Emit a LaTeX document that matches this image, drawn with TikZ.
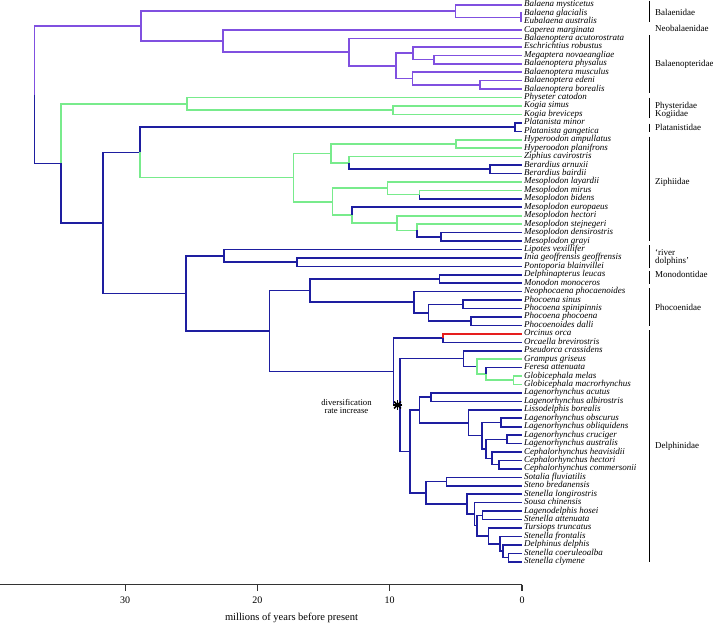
\documentclass[tikz,border=0pt]{standalone}
\usepackage{fontspec}
\setmainfont{Liberation Serif}

\definecolor{mystpurple}{RGB}{128,80,224}
\definecolor{odgreen}{RGB}{120,235,140}
\definecolor{odblue}{RGB}{30,30,160}
\definecolor{orcared}{RGB}{230,30,30}

\begin{document}
\begin{tikzpicture}[x=1pt, y=-1pt,
    branch/.style={line width=1.6pt},
    pu/.style={branch, draw=mystpurple},
    gr/.style={branch, draw=odgreen},
    bl/.style={branch, draw=odblue},
    rd/.style={branch, draw=orcared},
    tip/.style={anchor=west, inner sep=2pt, text height=6pt, text depth=2pt, font=\fontsize{9}{9}\selectfont\itshape},
    family/.style={anchor=west, inner sep=0pt, text height=6pt, text depth=2pt, font=\fontsize{9}{9}\selectfont},
    bracket/.style={line width=0.9pt},
    axis/.style={line width=1.1pt, draw=black!80},
    ticklab/.style={font=\fontsize{10}{10}\selectfont, inner sep=0pt}
]
\useasboundingbox (0,0) rectangle (713,624);

% tips
\node[tip] (bmys) at (522,4.70) {Balaena mysticetus};
\node[tip] (bgla) at (522,13.14) {Balaena glacialis};
\node[tip] (eaus) at (522,21.58) {Eubalaena australis};
\node[tip] (cmar) at (522,30.02) {Caperea marginata};
\node[tip] (bacu) at (522,38.46) {Balaenoptera acutorostrata};
\node[tip] (erob) at (522,46.90) {Eschrichtius robustus};
\node[tip] (mnov) at (522,55.34) {Megaptera novaeangliae};
\node[tip] (bphy) at (522,63.78) {Balaenoptera physalus};
\node[tip] (bmus) at (522,72.22) {Balaenoptera musculus};
\node[tip] (bede) at (522,80.66) {Balaenoptera edeni};
\node[tip] (bbor) at (522,89.10) {Balaenoptera borealis};
\node[tip] (pcat) at (522,97.54) {Physeter catodon};
\node[tip] (ksim) at (522,105.98) {Kogia simus};
\node[tip] (kbre) at (522,114.42) {Kogia breviceps};
\node[tip] (pmin) at (522,122.86) {Platanista minor};
\node[tip] (pgan) at (522,131.30) {Platanista gangetica};
\node[tip] (hamp) at (522,139.74) {Hyperoodon ampullatus};
\node[tip] (hpla) at (522,148.18) {Hyperoodon planifrons};
\node[tip] (zcav) at (522,156.62) {Ziphius cavirostris};
\node[tip] (barn) at (522,165.06) {Berardius arnuxii};
\node[tip] (bbai) at (522,173.50) {Berardius bairdii};
\node[tip] (mlay) at (522,181.94) {Mesoplodon layardii};
\node[tip] (mmir) at (522,190.38) {Mesoplodon mirus};
\node[tip] (mbid) at (522,198.82) {Mesoplodon bidens};
\node[tip] (meur) at (522,207.26) {Mesoplodon europaeus};
\node[tip] (mhec) at (522,215.70) {Mesoplodon hectori};
\node[tip] (mste) at (522,224.14) {Mesoplodon stejnegeri};
\node[tip] (mden) at (522,232.58) {Mesoplodon densirostris};
\node[tip] (mgra) at (522,241.02) {Mesoplodon grayi};
\node[tip] (lvex) at (522,249.46) {Lipotes vexillifer};
\node[tip] (igeo) at (522,257.90) {Inia geoffrensis geoffrensis};
\node[tip] (pbla) at (522,266.34) {Pontoporia blainvillei};
\node[tip] (dleu) at (522,274.78) {Delphinapterus leucas};
\node[tip] (mmon) at (522,283.22) {Monodon monoceros};
\node[tip] (npho) at (522,291.66) {Neophocaena phocaenoides};
\node[tip] (psin) at (522,300.10) {Phocoena sinus};
\node[tip] (pspi) at (522,308.54) {Phocoena spinipinnis};
\node[tip] (ppho) at (522,316.98) {Phocoena phocoena};
\node[tip] (pdal) at (522,325.42) {Phocoenoides dalli};
\node[tip] (oorc) at (522,333.86) {Orcinus orca};
\node[tip] (obre) at (522,342.30) {Orcaella brevirostris};
\node[tip] (pcra) at (522,350.74) {Pseudorca crassidens};
\node[tip] (ggri) at (522,359.18) {Grampus griseus};
\node[tip] (fatt) at (522,367.62) {Feresa attenuata};
\node[tip] (gmel) at (522,376.06) {Globicephala melas};
\node[tip] (gmac) at (522,384.50) {Globicephala macrorhynchus};
\node[tip] (lacu) at (522,392.94) {Lagenorhynchus acutus};
\node[tip] (lalb) at (522,401.38) {Lagenorhynchus albirostris};
\node[tip] (lbor) at (522,409.82) {Lissodelphis borealis};
\node[tip] (lobs) at (522,418.26) {Lagenorhynchus obscurus};
\node[tip] (lobl) at (522,426.70) {Lagenorhynchus obliquidens};
\node[tip] (lcru) at (522,435.14) {Lagenorhynchus cruciger};
\node[tip] (laus) at (522,443.58) {Lagenorhynchus australis};
\node[tip] (chea) at (522,452.02) {Cephalorhynchus heavisidii};
\node[tip] (chec) at (522,460.46) {Cephalorhynchus hectori};
\node[tip] (ccom) at (522,468.90) {Cephalorhynchus commersonii};
\node[tip] (sflu) at (522,477.34) {Sotalia fluviatilis};
\node[tip] (sbre) at (522,485.78) {Steno bredanensis};
\node[tip] (slon) at (522,494.22) {Stenella longirostris};
\node[tip] (schi) at (522,502.66) {Sousa chinensis};
\node[tip] (lhos) at (522,511.10) {Lagenodelphis hosei};
\node[tip] (satt) at (522,519.54) {Stenella attenuata};
\node[tip] (ttru) at (522,527.98) {Tursiops truncatus};
\node[tip] (sfro) at (522,536.42) {Stenella frontalis};
\node[tip] (ddel) at (522,544.86) {Delphinus delphis};
\node[tip] (scoe) at (522,553.30) {Stenella coeruleoalba};
\node[tip] (scly) at (522,561.74) {Stenella clymene};

% internal nodes, Mysticeti
\coordinate (nbalgla) at (520.7,17.36);
\coordinate (nbalaen) at (455.5,11.03);
\coordinate (nmegphy) at (434,59.56);
\coordinate (neschmeg) at (412.7,53.23);
\coordinate (nedebor) at (480,84.88);
\coordinate (nmusede) at (412.3,78.55);
\coordinate (nrorq2) at (395.7,65.89);
\coordinate (nrorq1) at (349,52.18);
\coordinate (ncaprorq) at (222.7,41.10);
\coordinate (nmyst) at (141,26.07);
% internal nodes, Odontoceti
\coordinate (nkogia) at (392.7,110.20);
\coordinate (nphyset) at (187,103.87);
\coordinate (nplat) at (515,127.08);
\coordinate (nhyper) at (456,143.96);
\coordinate (nberard) at (490,169.28);
\coordinate (nziphber) at (349,162.95);
\coordinate (nzip1) at (330.7,153.46);
\coordinate (nmirbid) at (419.3,194.60);
\coordinate (nlaymir) at (387.3,188.27);
\coordinate (ndengra) at (441,236.80);
\coordinate (nstejden) at (416.7,230.47);
\coordinate (nhectst) at (396.7,223.09);
\coordinate (neuroh) at (351.7,215.18);
\coordinate (nzip2) at (332.3,201.73);
\coordinate (nziphiid) at (293.3,177.60);
\coordinate (nplatzip) at (140,152.34);
\coordinate (niniapont) at (296.7,262.12);
\coordinate (nriver) at (224,255.79);
\coordinate (nmonod) at (439.3,279.00);
\coordinate (nsinspi) at (462.7,304.32);
\coordinate (nphodal) at (471,321.20);
\coordinate (nphoc2) at (428.3,312.76);
\coordinate (nphoc1) at (414,302.21);
\coordinate (nmonphoc) at (310,290.61);
\coordinate (norca) at (442.7,338.08);
\coordinate (nglobi) at (513.3,380.28);
\coordinate (nferesa) at (486,373.95);
\coordinate (ngrampus) at (476.7,366.57);
\coordinate (npseud) at (463.3,358.66);
\coordinate (nacualb) at (431,397.16);
\coordinate (nobsobl) at (500.7,422.48);
\coordinate (ncrucaus) at (506.7,439.36);
\coordinate (nhechcom) at (499,464.68);
\coordinate (nceph) at (491.7,458.35);
\coordinate (nlaus) at (486,448.86);
\coordinate (nlobs) at (481.7,435.67);
\coordinate (nlisso) at (468.3,422.75);
\coordinate (nlage) at (419.3,409.96);
\coordinate (nsotste) at (446.3,481.56);
\coordinate (ncoecly) at (508.3,557.52);
\coordinate (ndelph) at (502.7,551.19);
\coordinate (nfront) at (500,543.81);
\coordinate (nturs) at (488.3,535.90);
\coordinate (nlagatt) at (482.3,515.32);
\coordinate (nsten3) at (476.7,525.61);
\coordinate (nsousa) at (474.3,514.14);
\coordinate (nslong) at (466.7,504.18);
\coordinate (nsten1) at (425.7,492.87);
\coordinate (ndelcore) at (410,451.42);
\coordinate (ndel2) at (400,405.04);
\coordinate (ndelphinid) at (393.3,371.56);
\coordinate (ndmp) at (269.3,331.09);
\coordinate (nrivdmp) at (186,293.44);
\coordinate (ndelzip) at (102.7,222.89);
\coordinate (nodont) at (61,163.38);
\coordinate (nroot) at (34.3,94.73);

% Mysticeti
\draw[pu] (nroot) |- (nmyst);
\draw[pu] (nmyst) |- (nbalaen);
\draw[pu] (nbalaen) |- (bmys.west);
\draw[pu] (nbalaen) |- (nbalgla);
\draw[pu] (nbalgla) |- (bgla.west);
\draw[pu] (nbalgla) |- (eaus.west);
\draw[pu] (nmyst) |- (ncaprorq);
\draw[pu] (ncaprorq) |- (cmar.west);
\draw[pu] (ncaprorq) |- (nrorq1);
\draw[pu] (nrorq1) |- (bacu.west);
\draw[pu] (nrorq1) |- (nrorq2);
\draw[pu] (nrorq2) |- (neschmeg);
\draw[pu] (neschmeg) |- (erob.west);
\draw[pu] (neschmeg) |- (nmegphy);
\draw[pu] (nmegphy) |- (mnov.west);
\draw[pu] (nmegphy) |- (bphy.west);
\draw[pu] (nrorq2) |- (nmusede);
\draw[pu] (nmusede) |- (bmus.west);
\draw[pu] (nmusede) |- (nedebor);
\draw[pu] (nedebor) |- (bede.west);
\draw[pu] (nedebor) |- (bbor.west);

% Odontoceti
\draw[bl] (nroot) |- (nodont);
\draw[gr] (nodont) |- (nphyset);
\draw[gr] (nphyset) |- (pcat.west);
\draw[gr] (nphyset) |- (nkogia);
\draw[gr] (nkogia) |- (ksim.west);
\draw[gr] (nkogia) |- (kbre.west);
\draw[bl] (nodont) |- (ndelzip);
\draw[bl] (ndelzip) |- (nplatzip);
\draw[bl] (nplatzip) |- (nplat);
\draw[bl] (nplat) |- (pmin.west);
\draw[bl] (nplat) |- (pgan.west);
\draw[gr] (nplatzip) |- (nziphiid);
\draw[gr] (nziphiid) |- (nzip1);
\draw[gr] (nzip1) |- (nhyper);
\draw[gr] (nhyper) |- (hamp.west);
\draw[gr] (nhyper) |- (hpla.west);
\draw[gr] (nzip1) |- (nziphber);
\draw[gr] (nziphber) |- (zcav.west);
\draw[bl] (nziphber) |- (nberard);
\draw[bl] (nberard) |- (barn.west);
\draw[bl] (nberard) |- (bbai.west);
\draw[gr] (nziphiid) |- (nzip2);
\draw[gr] (nzip2) |- (nlaymir);
\draw[gr] (nlaymir) |- (mlay.west);
\draw[gr] (nlaymir) |- (nmirbid);
\draw[gr] (nmirbid) |- (mmir.west);
\draw[bl] (nmirbid) |- (mbid.west);
\draw[gr] (nzip2) |- (neuroh);
\draw[bl] (neuroh) |- (meur.west);
\draw[gr] (neuroh) |- (nhectst);
\draw[gr] (nhectst) |- (mhec.west);
\draw[gr] (nhectst) |- (nstejden);
\draw[gr] (nstejden) |- (mste.west);
\draw[bl] (nstejden) |- (ndengra);
\draw[bl] (ndengra) |- (mden.west);
\draw[bl] (ndengra) |- (mgra.west);
\draw[bl] (ndelzip) |- (nrivdmp);
\draw[bl] (nrivdmp) |- (nriver);
\draw[bl] (nriver) |- (lvex.west);
\draw[bl] (nriver) |- (niniapont);
\draw[bl] (niniapont) |- (igeo.west);
\draw[bl] (niniapont) |- (pbla.west);
\draw[bl] (nrivdmp) |- (ndmp);
\draw[bl] (ndmp) |- (nmonphoc);
\draw[bl] (nmonphoc) |- (nmonod);
\draw[bl] (nmonod) |- (dleu.west);
\draw[bl] (nmonod) |- (mmon.west);
\draw[bl] (nmonphoc) |- (nphoc1);
\draw[bl] (nphoc1) |- (npho.west);
\draw[bl] (nphoc1) |- (nphoc2);
\draw[bl] (nphoc2) |- (nsinspi);
\draw[bl] (nsinspi) |- (psin.west);
\draw[bl] (nsinspi) |- (pspi.west);
\draw[bl] (nphoc2) |- (nphodal);
\draw[bl] (nphodal) |- (ppho.west);
\draw[bl] (nphodal) |- (pdal.west);
% Delphinidae
\draw[bl] (ndmp) |- (ndelphinid);
\draw[bl] (ndelphinid) |- (norca);
\draw[rd] (norca) |- (oorc.west);
\draw[bl] (norca) |- (obre.west);
\draw[bl] (ndelphinid) |- (ndel2);
\draw[bl] (ndel2) |- (npseud);
\draw[bl] (npseud) |- (pcra.west);
\draw[bl] (npseud) |- (ngrampus);
\draw[gr] (ngrampus) |- (ggri.west);
\draw[gr] (ngrampus) |- (nferesa);
\draw[bl] (nferesa) |- (fatt.west);
\draw[gr] (nferesa) |- (nglobi);
\draw[gr] (nglobi) |- (gmel.west);
\draw[gr] (nglobi) |- (gmac.west);
\draw[bl] (ndel2) |- (ndelcore);
\draw[bl] (ndelcore) |- (nlage);
\draw[bl] (nlage) |- (nacualb);
\draw[bl] (nacualb) |- (lacu.west);
\draw[bl] (nacualb) |- (lalb.west);
\draw[bl] (nlage) |- (nlisso);
\draw[bl] (nlisso) |- (lbor.west);
\draw[bl] (nlisso) |- (nlobs);
\draw[bl] (nlobs) |- (nobsobl);
\draw[bl] (nobsobl) |- (lobs.west);
\draw[bl] (nobsobl) |- (lobl.west);
\draw[bl] (nlobs) |- (nlaus);
\draw[bl] (nlaus) |- (ncrucaus);
\draw[bl] (ncrucaus) |- (lcru.west);
\draw[bl] (ncrucaus) |- (laus.west);
\draw[bl] (nlaus) |- (nceph);
\draw[bl] (nceph) |- (chea.west);
\draw[bl] (nceph) |- (nhechcom);
\draw[bl] (nhechcom) |- (chec.west);
\draw[bl] (nhechcom) |- (ccom.west);
\draw[bl] (ndelcore) |- (nsten1);
\draw[bl] (nsten1) |- (nsotste);
\draw[bl] (nsotste) |- (sflu.west);
\draw[bl] (nsotste) |- (sbre.west);
\draw[bl] (nsten1) |- (nslong);
\draw[bl] (nslong) |- (slon.west);
\draw[bl] (nslong) |- (nsousa);
\draw[bl] (nsousa) |- (schi.west);
\draw[bl] (nsousa) |- (nsten3);
\draw[bl] (nsten3) |- (nlagatt);
\draw[bl] (nlagatt) |- (lhos.west);
\draw[bl] (nlagatt) |- (satt.west);
\draw[bl] (nsten3) |- (nturs);
\draw[bl] (nturs) |- (ttru.west);
\draw[bl] (nturs) |- (nfront);
\draw[bl] (nfront) |- (sfro.west);
\draw[bl] (nfront) |- (ndelph);
\draw[bl] (ndelph) |- (ddel.west);
\draw[bl] (ndelph) |- (ncoecly);
\draw[bl] (ncoecly) |- (scoe.west);
\draw[bl] (ncoecly) |- (scly.west);

% rate shift
\coordinate (shiftpt) at (397.5,405);
\foreach \a in {0,45,90,135}
    \draw[line width=1.7pt] (shiftpt) ++(\a:4.8) -- ++(\a+180:9.6);
\node[font=\fontsize{8.7}{8.4}\selectfont, align=center, inner sep=0pt] (divlab) at (346.5,406.5) {diversification\\rate increase};

% families
\draw[bracket] (649.5,0.7) -- (649.5,21.7);
\node[family] (balaenidae) at (655,13.3) {Balaenidae};
\node[family] (neobal) at (655,29.5) {Neobalaenidae};
\draw[bracket] (649.5,35) -- (649.5,93.3);
\node[family] (balaenop) at (655,64) {Balaenopteridae};
\draw[bracket] (649.5,97.7) -- (649.5,118.3);
\node[family] (physet) at (655,106) {Physteridae};
\node[family] (kogiid) at (655,114.3) {Kogiidae};
\draw[bracket] (649.5,123.5) -- (649.5,132);
\node[family] (platan) at (655,128) {Platanistidae};
\draw[bracket] (649.5,136.7) -- (649.5,240.7);
\node[family] (ziphiid) at (655,182.3) {Ziphiidae};
\draw[bracket] (649.5,245) -- (649.5,268.3);
\node[family] (riverd) at (655,253.3) {`river};
\node[family] (riverd2) at (655,261.7) {dolphins'};
\draw[bracket] (649.5,270.7) -- (649.5,284);
\node[family] (monodon) at (655,275.3) {Monodontidae};
\draw[bracket] (649.5,288.3) -- (649.5,326);
\node[family] (phocoen) at (655,308.3) {Phocoenidae};
\draw[bracket] (649.5,330) -- (649.5,562);
\node[family] (delphin) at (655,446.7) {Delphinidae};

% time axis
\coordinate (axleft) at (0,584.5);
\coordinate (ax30) at (125.1,584.5);
\coordinate (ax20) at (257.4,584.5);
\coordinate (ax10) at (389.7,584.5);
\coordinate (ax0) at (522,584.5);
\draw[axis] (axleft) -- (ax0);
\draw[axis] (ax30) -- ++(0,6);
\draw[axis] (ax20) -- ++(0,6);
\draw[axis] (ax10) -- ++(0,6);
\draw[axis] (ax0) -- ++(0,6);
\node[ticklab] (lab30) at (125.1,600) {30};
\node[ticklab] (lab20) at (257.4,600) {20};
\node[ticklab] (lab10) at (389.7,600) {10};
\node[ticklab] (lab0) at (522,600) {0};
\node[font=\fontsize{10.5}{10.5}\selectfont, inner sep=0pt] (axtitle) at (291.5,618) {millions of years before present};
\end{tikzpicture}
\end{document}
